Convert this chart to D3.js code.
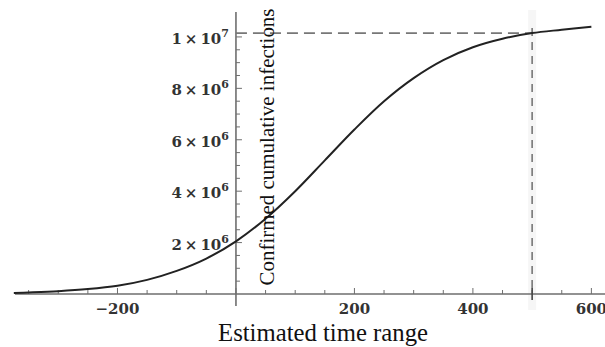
<!DOCTYPE html>
<html>
<head>
<meta charset="utf-8">
<script src="https://cdn.jsdelivr.net/npm/d3@7"></script>
<style>
  html, body { margin: 0; padding: 0; background: #fff; }
  svg { display: block; }
</style>
</head>
<body>
<svg id="chart" width="605" height="347"></svg>
<script>
// Data
const days       = [-375, -350, -300, -250, -200, -150, -100, -50, 0, 50, 100, 150, 200, 250, 300, 350, 400, 450, 500, 550, 600];
const infections = [0.04, 0.06, 0.11, 0.19, 0.32, 0.55, 0.90, 1.38, 2.05, 2.93, 4.00, 5.20, 6.40, 7.50, 8.40, 9.10, 9.60, 9.93, 10.15, 10.28, 10.40].map(v => v * 1e6);

const xTickValues = [-200, 200, 400, 600];
const yTickValues = [2e6, 4e6, 6e6, 8e6, 1e7];
const markDay = 500;
const markValue = 1.015e7;

const svg = d3.select("#chart");

const x = d3.scaleLinear().domain([-373, 623]).range([15, 605]);
const y = d3.scaleLinear().domain([0, 1.097e7]).range([294, 12]);

const axisColor = "#6e6e6e";
const labelFont = "'DejaVu Serif', serif";

// faint band behind the vertical marker
svg.append("rect")
  .attr("x", x(markDay) - 4).attr("y", 10)
  .attr("width", 8).attr("height", 300)
  .attr("fill", "#f6f6f6");

// minor / major ticks on x axis (pointing up)
const xMinor = d3.range(-350, 601, 50);
svg.append("g").selectAll("line").data(xMinor).join("line")
  .attr("x1", d => x(d)).attr("x2", d => x(d))
  .attr("y1", y(0)).attr("y2", d => y(0) - (d % 200 === 0 ? 6 : 4))
  .attr("stroke", axisColor).attr("stroke-width", 1);

// ticks on y axis (pointing right)
const yMinor = d3.range(5e5, 1.05e7, 5e5);
svg.append("g").selectAll("line").data(yMinor).join("line")
  .attr("x1", x(0)).attr("x2", d => x(0) + (d % 2e6 === 0 ? 6 : 4))
  .attr("y1", d => y(d)).attr("y2", d => y(d))
  .attr("stroke", axisColor).attr("stroke-width", 1);

// axis lines
svg.append("line")
  .attr("x1", 15).attr("x2", 605)
  .attr("y1", y(0)).attr("y2", y(0))
  .attr("stroke", axisColor).attr("stroke-width", 1.6);
svg.append("line")
  .attr("x1", x(0)).attr("x2", x(0))
  .attr("y1", 12).attr("y2", 306)
  .attr("stroke", axisColor).attr("stroke-width", 1.6);
svg.append("line")
  .attr("x1", x(markDay)).attr("x2", x(markDay))
  .attr("y1", y(0) - 6).attr("y2", y(0) + 6)
  .attr("stroke", "#444").attr("stroke-width", 1.6);

// dashed reference lines
svg.append("line")
  .attr("x1", x(0)).attr("x2", x(markDay))
  .attr("y1", y(markValue)).attr("y2", y(markValue))
  .attr("stroke", "#777").attr("stroke-width", 1.6)
  .attr("stroke-dasharray", "11 6");
svg.append("line")
  .attr("x1", x(markDay)).attr("x2", x(markDay))
  .attr("y1", y(markValue) - 5).attr("y2", y(0))
  .attr("stroke", "#777").attr("stroke-width", 1.6)
  .attr("stroke-dasharray", "8 6");

// curve
svg.append("path")
  .datum(days.map((d, i) => [d, infections[i]]))
  .attr("d", d3.line().x(d => x(d[0])).y(d => y(d[1])).curve(d3.curveCatmullRom.alpha(0.5)))
  .attr("fill", "none")
  .attr("stroke", "#222")
  .attr("stroke-width", 2);

// x tick labels
svg.append("g").selectAll("text").data(xTickValues).join("text")
  .attr("x", d => x(d)).attr("y", 314)
  .attr("text-anchor", "middle")
  .attr("font-family", labelFont).attr("font-weight", "bold")
  .attr("font-size", "15px").attr("fill", "#333")
  .text(d => d < 0 ? "\u2212" + Math.abs(d) : d);

// y tick labels: "a × 10^b"
const yLab = svg.append("g").selectAll("text").data(yTickValues).join("text")
  .attr("x", x(0) - 7).attr("y", d => y(d) + 7)
  .attr("text-anchor", "end")
  .attr("font-family", labelFont).attr("font-weight", "bold")
  .attr("font-size", "15px").attr("fill", "#333");
yLab.each(function(d) {
  const e = Math.floor(Math.log10(d));
  const m = Math.round(d / Math.pow(10, e));
  const t = d3.select(this);
  t.append("tspan").text(m + "\u2009\u00d7\u200910");
  t.append("tspan").attr("dy", -7).attr("font-size", "11px").text(e);
});

// axis titles
const yTitle = svg.append("text")
  .attr("transform", `translate(274,147) rotate(-90)`)
  .attr("text-anchor", "middle")
  .attr("font-family", "'Liberation Serif', serif")
  .attr("font-size", "18px").attr("fill", "#111")
  .text("Confirmed cumulative infections");
const yLen = yTitle.node().getComputedTextLength();
yTitle.attr("font-size", (18 * 277 / yLen).toFixed(2) + "px");

const xTitle = svg.append("text")
  .attr("x", 323).attr("y", 341)
  .attr("text-anchor", "middle")
  .attr("font-family", "'Liberation Serif', serif")
  .attr("font-size", "18px").attr("fill", "#111")
  .text("Estimated time range");
const xLen = xTitle.node().getComputedTextLength();
xTitle.attr("font-size", (18 * 210 / xLen).toFixed(2) + "px");
</script>
</body>
</html>
